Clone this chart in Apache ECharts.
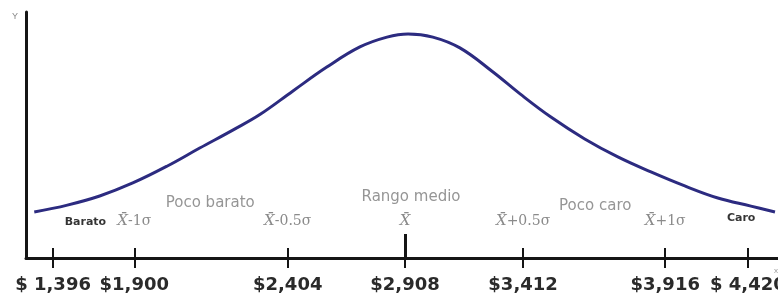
<!DOCTYPE html>
<html lang="es">
<head>
<meta charset="UTF-8">
<title>Rango de precios</title>
<style>
	html, body { margin: 0; padding: 0; background: #fff; }
	#chart { width: 778px; height: 297px; }
</style>
</head>
<body>
<div id="chart"></div>
<script src="https://cdn.jsdelivr.net/npm/echarts@6/dist/echarts.min.js"></script>
<script>
// posiciones a lo largo del eje (0-100, esquema no lineal del original)
var tickPos = [3.6, 14.4, 34.8, 50.4, 66.1, 85.0, 96.0];
var priceLabels = ['$ 1,396', '$1,900', '$2,404', '$2,908', '$3,412', '$3,916', '$ 4,420'];
var sigmaLabels = ['', '-1\u03c3', '-0.5\u03c3', '', '+0.5\u03c3', '+1\u03c3', ''];

// curva: [posicion, altura]
var curveX = [1.1, 5.5, 9.8, 14.2, 18.8, 23.1, 27.5, 31.1, 35.5, 40.0, 44.4, 48.0, 50.8,
	54.1, 57.7, 62.1, 65.7, 69.8, 74.3, 78.7, 83.1, 87.6, 92.0, 96.4, 99.6];
var curveY = [18.7, 21.5, 25.2, 30.5, 37.4, 44.7, 52.0, 58.3, 67.9, 77.6, 85.8, 89.8, 91.1,
	89.8, 85.4, 75.6, 66.7, 57.3, 48.4, 41.1, 35.0, 29.3, 24.4, 21.1, 18.7];

// zonas de precio
var zoneNames = ['Barato', 'Poco barato', 'Rango medio', 'Poco caro', 'Caro'];
var zoneX = [7.9, 24.5, 51.2, 75.7, 95.1];
var zoneY = [14.6, 22.4, 24.8, 21.1, 16.3];
var zoneBold = [true, false, false, false, true];

var curve = curveX.map(function (x, i) { return [x, curveY[i]]; });
var zones = zoneNames.map(function (n, i) {
	return {
		value: [zoneX[i], zoneY[i]],
		name: n,
		label: zoneBold[i]
			? { fontWeight: 'bold', fontSize: 11, color: '#000' }
			: { fontWeight: 'normal', fontSize: 15, color: '#7a7a7a' }
	};
});

function nearest(arr, v) {
	var best = 0;
	for (var i = 1; i < arr.length; i++) {
		if (Math.abs(arr[i] - v) < Math.abs(arr[best] - v)) best = i;
	}
	return best;
}

var chart = echarts.init(document.getElementById('chart'));

var option = {
	animation: false,
	grid: { left: 26, right: 0, top: 12, bottom: 39, containLabel: false, outerBoundsMode: 'none' },
	xAxis: [
		{
			type: 'value', min: 0, max: 100, position: 'bottom',
			name: 'x', nameLocation: 'end', nameGap: 0,
			nameTextStyle: { color: '#999', fontSize: 8, align: 'right', verticalAlign: 'top', padding: [9, 0, 0, 0] },
			axisLine: { show: true, onZero: false, lineStyle: { color: '#151515', width: 3 } },
			axisTick: { show: true, inside: false, length: 10, customValues: tickPos, lineStyle: { color: '#151515', width: 2 } },
			axisLabel: {
				show: true, customValues: tickPos, margin: 18,
				fontFamily: 'DejaVu Sans', fontWeight: 'bold', fontSize: 18, color: '#2a2a2a',
				formatter: function (v) { return priceLabels[nearest(tickPos, v)]; }
			},
			splitLine: { show: false }
		},
		{
			type: 'value', min: 0, max: 100, position: 'bottom',
			axisLine: { show: false, onZero: false },
			axisTick: { show: true, inside: true, length: 10, customValues: tickPos, lineStyle: { color: '#151515', width: 2 } },
			axisLabel: {
				show: true, inside: true, customValues: tickPos, margin: 29,
				fontFamily: 'DejaVu Serif', fontSize: 14, color: '#8a8a8a',
				formatter: function (v) {
					var i = nearest(tickPos, v);
					if (i === 0 || i === tickPos.length - 1) return '';
					return '{x|X\u0304}' + sigmaLabels[i];
				},
				rich: {
					x: { fontFamily: 'DejaVu Serif', fontStyle: 'italic', fontSize: 15, color: '#8a8a8a' }
				}
			},
			splitLine: { show: false }
		},
		{
			type: 'value', min: 0, max: 100, position: 'bottom',
			axisLine: { show: false, onZero: false },
			axisTick: { show: true, inside: true, length: 24, customValues: [tickPos[3]], lineStyle: { color: '#151515', width: 3 } },
			axisLabel: { show: false },
			splitLine: { show: false }
		}
	],
	yAxis: {
		type: 'value', min: 0, max: 100,
		name: 'Y', nameLocation: 'end', nameGap: 0,
		nameTextStyle: { color: '#888', fontSize: 9, align: 'right', verticalAlign: 'top', padding: [0, 8, 0, 0] },
		axisLine: { show: true, onZero: false, lineStyle: { color: '#151515', width: 3 } },
		axisTick: { show: false },
		axisLabel: { show: false },
		splitLine: { show: false }
	},
	series: [
		{
			type: 'line',
			xAxisIndex: 0,
			data: curve,
			smooth: 0.4,
			symbol: 'none',
			lineStyle: { color: '#2c2b80', width: 3 }
		},
		{
			type: 'scatter',
			xAxisIndex: 0,
			data: zones,
			symbolSize: 0,
			label: {
				show: true, position: 'inside', fontFamily: 'DejaVu Sans',
				formatter: function (p) { return p.name; }
			}
		}
	]
};

chart.setOption(option);
</script>
</body>
</html>
